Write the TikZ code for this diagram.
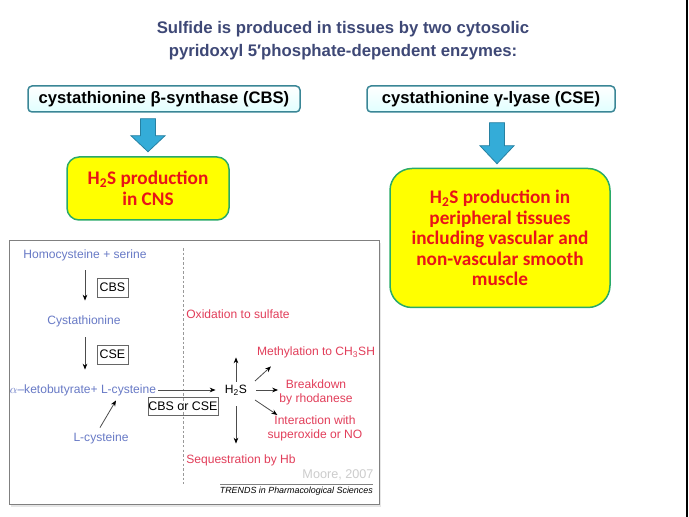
\documentclass[tikz,border=0pt]{standalone}
\usepackage{fontspec}
\setmainfont{Liberation Sans}
\newfontfamily\calibrifont{Carlito}
\usepackage{tikz}
\usetikzlibrary{positioning}
\usetikzlibrary{arrows.meta}
\usetikzlibrary{shapes,calc,shadows}
\definecolor{titleblue}{RGB}{62,72,118}
\definecolor{boxteal}{RGB}{58,134,150}
\definecolor{arrowblue}{RGB}{52,172,216}
\definecolor{pathblue}{RGB}{104,122,198}
\definecolor{pathred}{RGB}{226,62,90}
\definecolor{hsyellow}{RGB}{255,255,0}
\definecolor{hsred}{RGB}{232,20,24}
\newcommand{\pxu}{0.03cm}
\tikzset{blockarrow/.style={draw=arrowblue!75!black,fill=arrowblue,line width=0.8*\pxu}}

\begin{document}
\begin{tikzpicture}[x=0.03cm,y=-0.03cm]
	\useasboundingbox (0,0) rectangle (689,517);
	\draw[line width=2*\pxu] (687,0) -- (687,517);

	\node[text=titleblue,font=\bfseries\fontsize{14.3}{19.6}\selectfont,align=center] (title) at (343,41)
	    {Sulfide is produced in tissues by two cytosolic\\pyridoxyl 5′phosphate-dependent enzymes:};

	\begin{scope}[every node/.style={draw=boxteal,line width=1.5*\pxu,rounded corners=4*\pxu,
	              top color=white,bottom color=cyan!12,font=\bfseries\fontsize{14.2}{16}\selectfont,
	              minimum height=26*\pxu,inner sep=0pt}]
	    \node[minimum width=272*\pxu] (CBS) at (164,99) {cystathionine β-synthase (CBS)};
	    \node[minimum width=248*\pxu] (CSE) at (491,99) {cystathionine γ-lyase (CSE)};
	\end{scope}

	\begin{scope}[every node/.style={draw=boxteal!70!green,line width=1.5*\pxu,fill=hsyellow,
	              text=hsred,align=center,inner sep=0pt,
	              font=\calibrifont\bfseries\fontsize{16.4}{17.5}\selectfont}]
	    \node[minimum width=162*\pxu,minimum height=63*\pxu,rounded corners=12*\pxu] (CNS) at (148,188.5)
	        {H\textsubscript{2}S production\\in CNS};
	    \node[minimum width=220*\pxu,minimum height=139*\pxu,rounded corners=22*\pxu] (PER) at (500,238)
	        {H\textsubscript{2}S production in\\peripheral tissues\\including vascular and\\non-vascular smooth\\muscle};
	\end{scope}

	% blue block arrows
	\coordinate (cbsTop) at ($(CBS.south)+(-16,6)$);
	\coordinate (cseTop) at ($(CSE.south)+(6,10)$);
	\draw[blockarrow] (cbsTop) ++(-7.5,0) -- ++(15,0) -- ++(0,17) -- ++(9.5,0) -- ++(-17,16)
	    -- ++(-17,-16) -- ++(9.5,0) -- cycle;
	\draw[blockarrow] (cseTop) ++(-7.5,0) -- ++(15,0) -- ++(0,23) -- ++(9.5,0) -- ++(-17,18)
	    -- ++(-17,-18) -- ++(9.5,0) -- cycle;

	% the pathway panel
	\draw[gray,line width=1*\pxu,fill=white,drop shadow={opacity=0.2,shadow xshift=1.5pt,shadow yshift=-1.5pt}]
	    (9,241) rectangle (379,505);
	\draw[gray!80,dash pattern=on 2.2pt off 1.8pt,line width=0.7*\pxu] (183,248) -- (183,484);

	\begin{scope}[every node/.style={font=\fontsize{10.3}{12}\selectfont,inner sep=1pt,
	              text height=7.5pt,text depth=2.1pt}]
	    \node[text=pathblue] (homo) at (85,255) {Homocysteine + serine};
	    \node[text=pathblue] (cysta) at (84,321) {Cystathionine};
	    \node[text=pathblue] (keto) at (83,390) {$\alpha$–ketobutyrate+ L-cysteine};
	    \node[text=pathblue] (lcys) at (101,438) {L-cysteine};
	    \node (h2s) at (236,390) {H\textsubscript{2}S};
	    \node[text=pathred] (ox) at (238,315) {Oxidation to sulfate};
	    \node[text=pathred] (meth) at (316,352) {Methylation to CH\textsubscript{3}SH};
	    \node[text=pathred,align=center,text height=,text depth=] (brk) at (316,392) {Breakdown\\by rhodanese};
	    \node[text=pathred,align=center,text height=,text depth=] (inter) at (315,428) {Interaction with\\superoxide or NO};
	    \node[text=pathred] (seq) at (241,460) {Sequestration by Hb};
	    \node[text=black!20,font=\fontsize{10.8}{12}\selectfont] (moore) at (338,475) {Moore, 2007};
	\end{scope}

	\begin{scope}[every node/.style={draw=gray!80!black,line width=0.8*\pxu,inner sep=0pt,
	              font=\fontsize{10.6}{12}\selectfont}]
	    \node[minimum width=31*\pxu,minimum height=19*\pxu] (cbsbox) at (112.5,287.5) {CBS};
	    \node[minimum width=31*\pxu,minimum height=19*\pxu] (csebox) at (112.5,354.5) {CSE};
	    \node[minimum width=70*\pxu,minimum height=18*\pxu] (eitherbox) at (183,406) {CBS or CSE};
	\end{scope}

	\draw[gray,line width=0.7*\pxu] (220,484) -- (373,484);
	\node[font=\itshape\fontsize{7.6}{9}\selectfont,anchor=east,inner sep=0pt] (trends) at (373,491)
	    {TRENDS in Pharmacological Sciences};

	\begin{scope}[>={Stealth[black,length=5pt,width=4pt]},
	              every edge/.style={draw=gray!60!black,line width=0.8*\pxu}]
	    \path [->] ($(homo.south)+(0,8.4)$) edge ($(homo.south |- cysta.north)+(0,-13.4)$);
	    \path [->] ($(cysta.south)+(1,9.4)$) edge ($(homo.south |- keto.north)+(0,-13.4)$);
	    \path [->] ($(keto.east)+(1,0)$) edge ($(h2s.west)+(-8,0)$);
	    \path [->] ($(lcys.north)+(-1,-3.4)$) edge ($(keto.south)+(33,3.4)$);
	    \path [->] ($(h2s.north)+(0,-1.4)$) edge ($(h2s.north |- ox.south)+(0,35.4)$);
	    \path [->] ($(h2s)+(19,-9)$) edge ($(meth.south)+(-45,7.4)$);
	    \path [->] ($(h2s)+(20,0)$) edge ($(brk.west |- h2s)+(0,0)$);
	    \path [->] ($(h2s)+(19,10)$) edge ($(inter.north west)+(11,1)$);
	    \path [->] ($(h2s.south)+(0,9)$) edge ($(h2s.south |- seq.north)+(0,-9.4)$);
	\end{scope}
\end{tikzpicture}
\end{document}
